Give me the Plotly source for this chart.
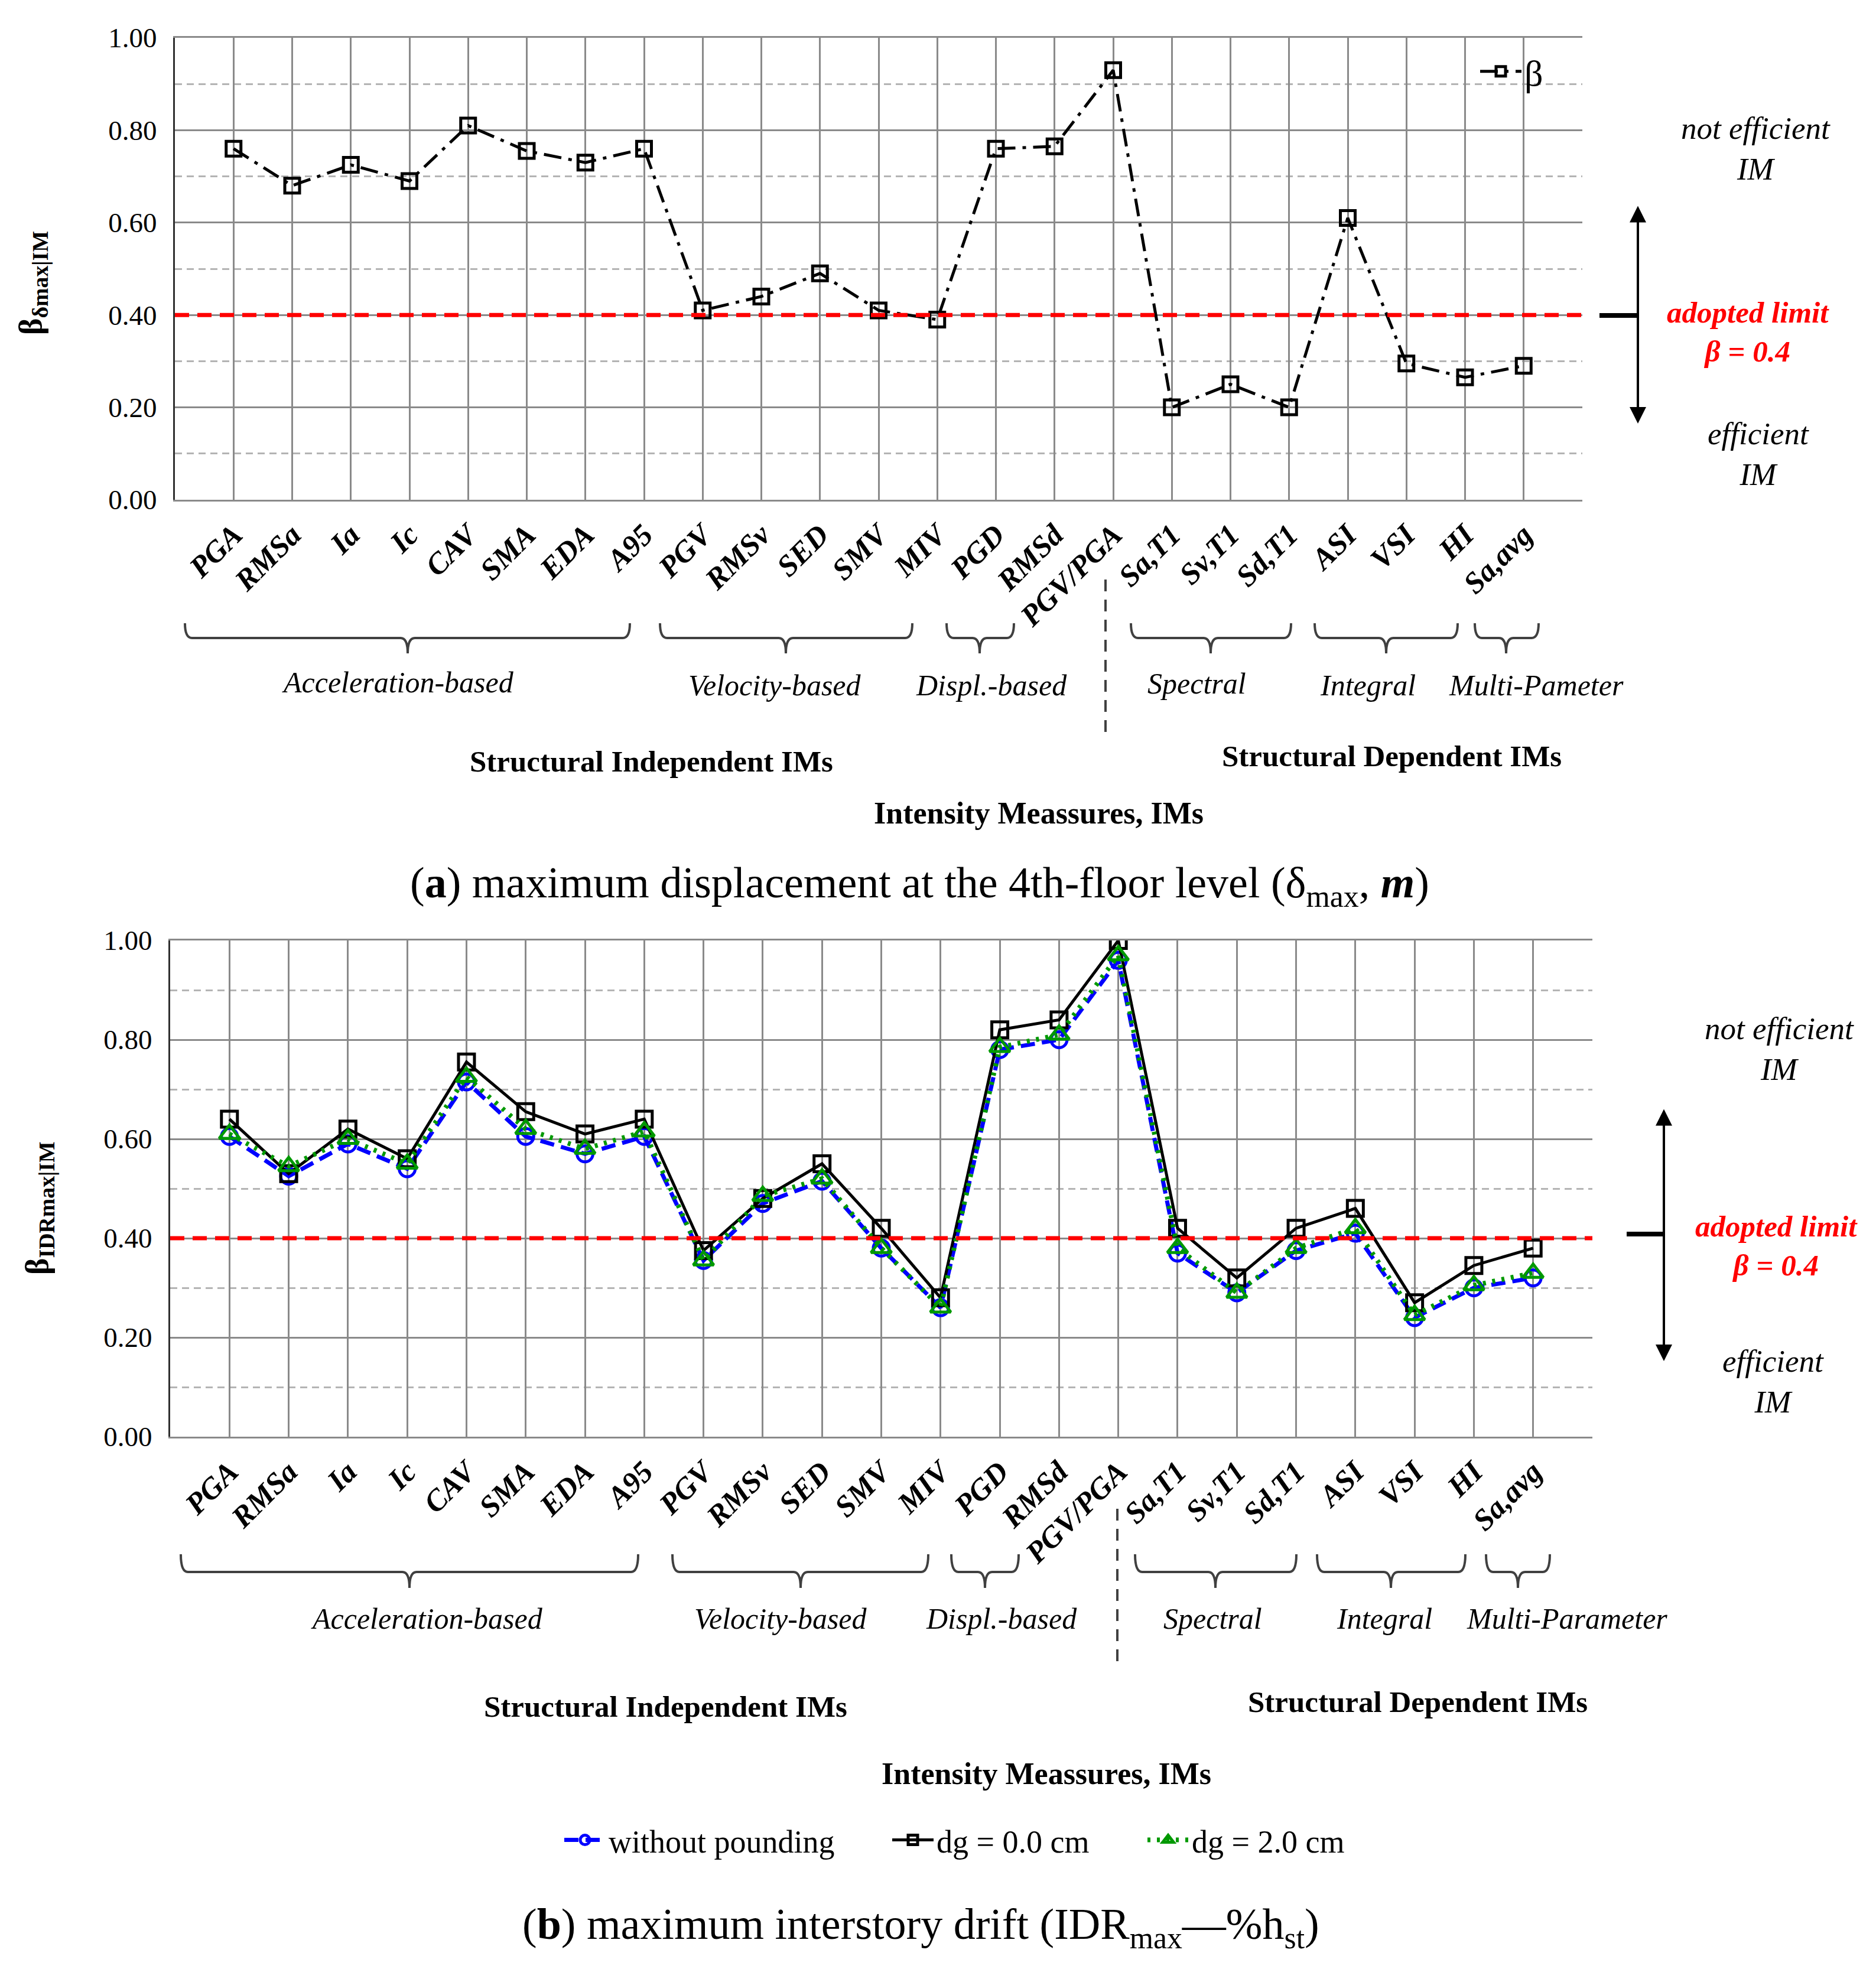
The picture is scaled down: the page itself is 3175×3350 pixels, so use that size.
import plotly.graph_objects as go

W, H = 3175, 3350
FONT = "Liberation Serif"

categories = ["PGA", "RMSa", "Ia", "Ic", "CAV", "SMA", "EDA", "A95", "PGV", "RMSv", "SED",
              "SMV", "MIV", "PGD", "RMSd", "PGV/PGA", "Sa,T1", "Sv,T1", "Sd,T1", "ASI", "VSI",
              "HI", "Sa,avg"]

beta_delta = [0.76, 0.68, 0.725, 0.69, 0.81, 0.755, 0.73, 0.76, 0.41, 0.44, 0.49, 0.41, 0.39,
              0.76, 0.765, 0.93, 0.20, 0.25, 0.20, 0.61, 0.295, 0.265, 0.29]

idr_without = [0.605, 0.525, 0.59, 0.54, 0.715, 0.605, 0.57, 0.605, 0.355, 0.47, 0.515, 0.38,
               0.26, 0.78, 0.80, 0.96, 0.37, 0.29, 0.375, 0.41, 0.24, 0.30, 0.32]
idr_dg00 = [0.64, 0.53, 0.62, 0.56, 0.755, 0.655, 0.61, 0.64, 0.375, 0.48, 0.55, 0.42, 0.28,
            0.82, 0.84, 1.00, 0.42, 0.32, 0.42, 0.46, 0.27, 0.345, 0.38]
idr_dg20 = [0.61, 0.545, 0.60, 0.55, 0.725, 0.62, 0.58, 0.615, 0.355, 0.485, 0.52, 0.38, 0.26,
            0.785, 0.81, 0.97, 0.38, 0.29, 0.38, 0.42, 0.245, 0.305, 0.33]

y_ticks = [0.0, 0.2, 0.4, 0.6, 0.8, 1.0]
limit = 0.4

groups = ["Acceleration-based", "Velocity-based", "Displ.-based", "Spectral", "Integral"]
group_last_a = "Multi-Pameter"
group_last_b = "Multi-Parameter"

xs = list(range(len(categories)))


def px(x):
    return x / W


def py(y):
    return 1 - y / H


fig = go.Figure()

fig.add_trace(go.Scatter(x=xs, y=beta_delta, name="β", mode="lines+markers",
                         line=dict(color="black", width=5, dash="30px,12px,6px,12px"),
                         marker=dict(symbol="square-open", size=25, color="black",
                                     line=dict(width=5, color="black")),
                         xaxis="x", yaxis="y", legend="legend"))

fig.add_trace(go.Scatter(x=xs, y=idr_without, name="without pounding", mode="lines+markers",
                         line=dict(color="#0000ff", width=7, dash="24px,12px"),
                         marker=dict(symbol="circle-open", size=27, color="#0000ff",
                                     line=dict(width=5, color="#0000ff")),
                         xaxis="x2", yaxis="y2", legend="legend2"))
fig.add_trace(go.Scatter(x=xs, y=idr_dg00, name="dg = 0.0 cm", mode="lines+markers",
                         line=dict(color="black", width=5),
                         marker=dict(symbol="square-open", size=27, color="black",
                                     line=dict(width=5, color="black")),
                         xaxis="x2", yaxis="y2", legend="legend3"))
fig.add_trace(go.Scatter(x=xs, y=idr_dg20, name="dg = 2.0 cm", mode="lines+markers",
                         line=dict(color="#009900", width=8, dash="5px,11px"),
                         marker=dict(symbol="triangle-up-open", size=30, color="#009900",
                                     line=dict(width=5, color="#009900")),
                         xaxis="x2", yaxis="y2", legend="legend4"))

tickvals = xs + [len(categories)]
ticktext = categories + [""]


def xaxis_cfg(domain, anchor):
    return dict(domain=domain, anchor=anchor, range=[-1, len(categories)],
                tickmode="array", tickvals=tickvals, ticktext=ticktext, tickangle=-45,
                tickfont=dict(family=FONT, size=51, color="black", weight="bold", style="italic"),
                showgrid=True, gridcolor="#8a8a8a", gridwidth=3,
                showline=True, linecolor="#8a8a8a", linewidth=3, mirror=True,
                ticks="", ticklabelstandoff=6, zeroline=False, fixedrange=True,
                automargin=False)


def yaxis_cfg(domain, anchor):
    return dict(domain=domain, anchor=anchor, range=[0, 1.0],
                tickmode="array", tickvals=y_ticks, tickformat=".2f",
                tickfont=dict(family=FONT, size=47, color="black"),
                showgrid=True, gridcolor="#8a8a8a", gridwidth=3,
                minor=dict(dtick=0.1, tick0=0, showgrid=True, gridcolor="#b4b4b4",
                           gridwidth=3, griddash="12px,8px"),
                showline=True, linecolor="#303030", linewidth=3,
                ticks="", ticklabelstandoff=18, zeroline=False, fixedrange=True,
                automargin=False)


def leg(x, y, size):
    return dict(x=px(x), y=py(y), xanchor="left", yanchor="middle",
                bgcolor="rgba(0,0,0,0)", font=dict(family=FONT, size=size),
                itemwidth=70, orientation="h")


fig.update_layout(
    width=W, height=H, margin=dict(l=0, r=0, t=0, b=0, pad=0, autoexpand=False),
    autosize=False,
    paper_bgcolor="white", plot_bgcolor="white",
    font=dict(family=FONT, size=46, color="black"),
    xaxis=xaxis_cfg([px(296), px(2678)], "y"),
    yaxis=yaxis_cfg([py(846), py(64)], "x"),
    xaxis2=xaxis_cfg([px(288), px(2695)], "y2"),
    yaxis2=yaxis_cfg([py(2432), py(1592)], "x2"),
    legend=leg(2500, 121, 62),
    legend2=leg(950, 3115, 54),
    legend3=leg(1505, 3115, 54),
    legend4=leg(1937, 3115, 54),
    showlegend=True,
)

shapes = []
annotations = []

# red limit lines
for xr, yr in (("x domain", "y"), ("x2 domain", "y2")):
    shapes.append(dict(type="line", xref=xr, yref=yr, x0=0, x1=1, y0=limit, y1=limit,
                       line=dict(color="#ff0000", width=7, dash="24px,14px"), layer="above"))


def brace(x0, x1, xm, ytop, yh, ytip):
    r = 12
    p = (f"M {px(x0)},{py(ytop)} Q {px(x0)},{py(yh)} {px(x0 + r)},{py(yh)} "
         f"L {px(xm - r)},{py(yh)} Q {px(xm)},{py(yh)} {px(xm)},{py(ytip)} "
         f"Q {px(xm)},{py(yh)} {px(xm + r)},{py(yh)} "
         f"L {px(x1 - r)},{py(yh)} Q {px(x1)},{py(yh)} {px(x1)},{py(ytop)}")
    return dict(type="path", xref="paper", yref="paper", path=p,
                line=dict(color="#404040", width=4))


# top braces
for x0, x1, xm in [(313, 1066, 690), (1117, 1544, 1330), (1602, 1716, 1658),
                   (1914, 2185, 2049), (2225, 2467, 2346), (2496, 2604, 2549)]:
    shapes.append(brace(x0, x1, xm, 1055, 1080, 1106))
# bottom braces
for x0, x1, xm in [(306, 1080, 693), (1138, 1571, 1355), (1610, 1724, 1667),
                   (1921, 2194, 2057), (2229, 2480, 2354), (2515, 2623, 2569)]:
    shapes.append(brace(x0, x1, xm, 2631, 2661, 2688))

# separator dashed lines
shapes.append(dict(type="line", xref="paper", yref="paper", x0=px(1871), x1=px(1871),
                   y0=py(981), y1=py(1242), line=dict(color="#404040", width=4, dash="20px,14px")))
shapes.append(dict(type="line", xref="paper", yref="paper", x0=px(1891), x1=px(1891),
                   y0=py(2554), y1=py(2819), line=dict(color="#404040", width=4, dash="20px,14px")))

# limit ticks (horizontal)
shapes.append(dict(type="line", xref="paper", yref="paper", x0=px(2707), x1=px(2772),
                   y0=py(534), y1=py(534), line=dict(color="black", width=8)))
shapes.append(dict(type="line", xref="paper", yref="paper", x0=px(2753), x1=px(2816),
                   y0=py(2089), y1=py(2089), line=dict(color="black", width=8)))

# double arrows
for xa, ya0, ya1 in [(2772, 347, 717), (2816, 1876, 2304)]:
    annotations.append(dict(xref="paper", yref="paper", x=px(xa), y=py(ya1),
                            ax=0, ay=ya0 - ya1, axref="pixel", ayref="pixel",
                            text="", showarrow=True, arrowhead=2, startarrowhead=2,
                            arrowside="end+start", arrowwidth=4, arrowsize=1.4,
                            startarrowsize=1.4, arrowcolor="black"))


def txt(x, y, s, size=46, color="black", angle=0):
    annotations.append(dict(xref="paper", yref="paper", x=px(x), y=py(y), text=s,
                            showarrow=False, xanchor="center", yanchor="middle",
                            textangle=angle,
                            font=dict(family=FONT, size=size, color=color)))


# group labels top
top_labels = groups + [group_last_a]
for (x, y), s in zip([(673, 1155), (1311, 1160), (1678, 1160), (2025, 1157), (2315, 1160),
                      (2600, 1160)], top_labels):
    txt(x, y, f"<i>{s}</i>", size=50)
bot_labels = groups + [group_last_b]
for (x, y), s in zip([(722, 2740), (1321, 2740), (1695, 2740), (2052, 2740), (2343, 2740),
                      (2652, 2740)], bot_labels):
    txt(x, y, f"<i>{s}</i>", size=50)

txt(1102, 1289, "<b>Structural Independent IMs</b>", size=51)
txt(2355, 1280, "<b>Structural Dependent IMs</b>", size=51)
txt(1758, 1376, "<b>Intensity Meassures, IMs</b>", size=52)
txt(1126, 2889, "<b>Structural Independent IMs</b>", size=51)
txt(2399, 2881, "<b>Structural Dependent IMs</b>", size=51)
txt(1771, 3002, "<b>Intensity Meassures, IMs</b>", size=52)

# side notes
txt(2971, 252, "<i>not efficient<br>IM</i>", size=53)
txt(2958, 562, "<b><i>adopted limit<br>β = 0.4</i></b>", size=51, color="#ff0000")
txt(2976, 769, "<i>efficient<br>IM</i>", size=53)
txt(3011, 1775, "<i>not efficient<br>IM</i>", size=53)
txt(3006, 2109, "<b><i>adopted limit<br>β = 0.4</i></b>", size=51, color="#ff0000")
txt(3001, 2338, "<i>efficient<br>IM</i>", size=53)

# y-axis titles
txt(55, 479, "<b>β<sub>δmax|IM</sub></b>", size=54, angle=-90)
txt(66, 2045, "<b>β<sub>IDRmax|IM</sub></b>", size=54, angle=-90)

# captions
txt(1556, 1500, "(<b>a</b>) maximum displacement at the 4th-floor level (δ<sub>max</sub>, <b><i>m</i></b>)",
    size=74)
txt(1558, 3262, "(<b>b</b>) maximum interstory drift (IDR<sub>max</sub>—%h<sub>st</sub>)", size=74)

fig.update_layout(shapes=shapes, annotations=annotations)

fig.write_html("out.html", config={"displayModeBar": False},
               post_script="document.body.style.margin='0';document.body.style.padding='0';"
                           "document.documentElement.style.overflow='hidden';"
                           "document.body.style.overflow='hidden';")
